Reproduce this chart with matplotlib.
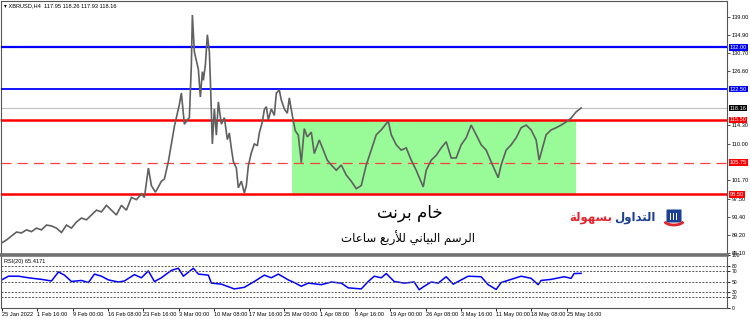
import matplotlib
matplotlib.use("Agg")
import matplotlib.pyplot as plt
from matplotlib.transforms import blended_transform_factory
from matplotlib.patches import Rectangle, FancyBboxPatch, Arc

# bar number (H4) -> price
price_bar = [0, 5, 10, 15, 20, 25, 30, 35, 40, 45, 50, 55, 60, 65, 70, 75, 80, 85, 90, 95,
             100, 105, 110, 115, 120, 125, 130, 135, 140, 143, 147, 150, 154, 157, 160, 163,
             167, 170, 173, 176, 178, 180, 183, 186, 188, 190, 191, 193, 195, 197, 199, 201,
             202, 204, 206, 208, 209, 211, 213, 215, 217, 220, 223, 226, 228, 230, 232, 235,
             237, 240, 243, 245, 247, 250, 253, 256, 258, 261, 263, 265, 267, 270, 273, 275,
             278, 280, 283, 286, 288, 291, 294, 297, 300, 303, 306, 310, 313, 318, 322, 326,
             330, 335, 340, 345, 350, 355, 360, 365, 370, 375, 380, 387, 390, 395, 400, 405,
             410, 415, 422, 425, 430, 435, 440, 445, 450, 455, 460, 465, 470, 475, 480, 485,
             490, 497, 500, 505, 510, 515, 520, 525, 530, 535, 538, 545, 550, 555, 560, 565,
             570, 575, 580]
price = [87.4, 88.1, 89.0, 89.9, 89.7, 90.4, 90.0, 90.8, 90.4, 91.5, 91.3, 90.8, 89.8, 91.5,
         90.8, 92.2, 93.1, 92.7, 93.8, 94.9, 94.5, 96.0, 94.9, 93.8, 96.0, 94.9, 97.8, 97.3,
         98.6, 97.8, 104.5, 100.5, 99.0, 100.2, 101.5, 102.0, 106.0, 110.0, 114.0, 117.0,
         119.0, 121.6, 114.5, 115.5, 116.0, 128.0, 139.4, 131.0, 129.0, 127.0, 120.7, 126.5,
         124.5, 128.0, 134.9, 131.0, 124.6, 110.0, 118.0, 112.0, 119.6, 114.5, 116.0, 111.0,
         112.5, 109.0, 106.0, 104.5, 100.0, 101.5, 98.8, 100.5, 105.0, 108.0, 110.0, 109.6,
         112.5, 115.0, 117.8, 118.5, 115.5, 118.0, 116.5, 121.6, 122.3, 120.0, 118.0, 117.0,
         120.5, 116.5, 113.0, 112.0, 105.7, 113.5, 111.6, 112.7, 107.8, 110.9, 108.6, 106.3,
         105.2, 104.0, 105.2, 102.9, 101.5, 99.8, 100.5, 105.2, 108.6, 112.1, 113.2, 115.2,
         112.1, 109.8, 108.6, 109.1, 106.3, 104.0, 100.2, 104.0, 106.3, 107.4, 109.1, 110.5,
         106.8, 106.8, 109.8, 111.4, 114.3, 112.1, 109.8, 108.6, 105.9, 102.3, 105.2, 108.6,
         109.8, 111.4, 113.7, 114.3, 113.2, 110.9, 106.3, 112.1, 113.2, 113.7, 114.3, 115.0,
         115.9, 117.3, 118.2]

rsi_bar = [0, 7, 17, 27, 40, 50, 57, 63, 70, 80, 87, 93, 100, 107, 117, 123, 133, 140, 147,
           153, 160, 170, 177, 182, 192, 197, 207, 210, 220, 233, 243, 253, 263, 270, 277,
           287, 293, 300, 307, 320, 330, 340, 347, 360, 367, 373, 380, 385, 393, 403, 413,
           418, 423, 430, 437, 445, 452, 457, 467, 480, 487, 495, 500, 510, 520, 530, 537,
           540, 550, 563, 570, 573, 580]
rsi = [52.8, 60, 60, 57, 54, 51, 68, 62, 50, 52, 48, 64, 60, 53, 49, 51, 63, 57, 70, 50,
       57, 71, 75, 60, 75, 64, 62, 47, 45, 36, 39, 50, 62, 57, 64, 53, 48, 41, 47, 44, 49,
       47, 38, 36, 50, 60, 57, 65, 50, 47, 49, 34.5, 41, 49, 47, 59, 45, 50, 60, 59, 44, 35,
       48, 54, 60, 56, 44, 52, 54, 59, 56, 65, 65.4]

# horizontal levels and their tags
level_values = [132.00, 122.50, 115.50, 105.75, 98.50]
level_labels = ["132.00", "122.50", "115.50", "105.75", "98.50"]
last_price = 118.16

zone_start, zone_end = 291, 575
zone_low, zone_high = 98.50, 115.50

price_ticks = [139.00, 134.90, 130.70, 126.60, 114.30, 110.00, 101.70, 97.50, 93.40, 89.20, 85.10]
rsi_ticks = [100, 80, 70, 50, 30, 20, 0]
rsi_levels = [80, 70, 50, 30, 20]

time_labels = ["25 Jan 2022", "1 Feb 16:00", "9 Feb 00:00", "16 Feb 08:00", "23 Feb 16:00",
               "3 Mar 00:00", "10 Mar 08:00", "17 Mar 16:00", "25 Mar 00:00", "1 Apr 08:00",
               "8 Apr 16:00", "19 Apr 00:00", "26 Apr 08:00", "3 May 16:00", "11 May 00:00",
               "18 May 08:00", "25 May 16:00"]

title_text = "XBRUSD,H4  117.95 118.26 117.93 118.16"
rsi_text = "RSI(20) 65.4171"

# Arabic text written with presentation forms in visual order
big_title = "\ufe96\ufee7\ufeae\ufe91 \ufee1\ufe8e\ufea7"
sub_title = ("\ufe95\ufe8e\ufecb\ufe8e\ufeb3 \ufeca\ufe91\ufead\ufef8\ufedf "
             "\ufef2\ufee7\ufe8e\ufef4\ufe92\ufedf\ufe8d \ufee2\ufeb3\ufeae\ufedf\ufe8d")
logo_red = "\ufe94\ufedf\ufeee\ufeec\ufeb4\ufe91"
logo_blue = "\ufedd\ufeed\ufe8d\ufeaa\ufe98\ufedf\ufe8d"

small = ['Liberation Sans', 'DejaVu Sans']
fs = 4.1

W, H = 750, 319
fig = plt.figure(figsize=(7.5, 3.19), dpi=100)
plt.rcParams['font.family'] = ['DejaVu Sans']

x0, x1 = 1, 727
ax = fig.add_axes([x0 / W, 1 - 254 / H, (x1 - x0) / W, 253 / H])
ax2 = fig.add_axes([x0 / W, 1 - 308 / H, (x1 - x0) / W, 53 / H])

xlim = (-0.5, 726)
ax.set_xlim(*xlim)
ax.set_ylim(84.9, 142.6)

ax.add_patch(Rectangle((zone_start, zone_low), zone_end - zone_start, zone_high - zone_low,
                       facecolor="#98fb98", edgecolor="none", zorder=1))

level_colors = ["#0000ff", "#0000ff", "#ff0000", "#ff4040", "#ff0000"]
level_styles = ["-", "-", "-", (0, (8, 5)), "-"]
level_widths = [1.6, 1.3, 1.8, 0.9, 1.8]
for v, c, ls, lw in zip(level_values, level_colors, level_styles, level_widths):
    ax.axhline(v, color=c, ls=ls, lw=lw, zorder=3)
ax.axhline(last_price, color="#c0c0c0", lw=0.8, zorder=2)

ax.plot(price_bar, price, color="#606060", lw=1.2, zorder=4, solid_joinstyle="miter")

ax.yaxis.tick_right()
ax.set_yticks(price_ticks)
ax.set_yticklabels(["%.2f" % t for t in price_ticks], family=small)
ax.tick_params(axis="y", labelsize=fs, length=2, width=0.6, pad=1.2, colors="#333333",
               labelcolor="#000000")
ax.set_xticks([])
for s in ax.spines.values():
    s.set_color("#555555")
    s.set_linewidth(0.8)

tr = blended_transform_factory(ax.transAxes, ax.transData)
tag_colors = ["#0000ff", "#0000ff", "#ff0000", "#ff0000", "#ff0000"]
for v, lab, c in zip(level_values, level_labels, tag_colors):
    ax.text(1.004, v, lab, transform=tr, fontsize=fs, color="white", va="center", ha="left",
            family=small, bbox=dict(boxstyle="square,pad=0.12", fc=c, ec="none"),
            clip_on=False, zorder=10)
ax.text(1.004, last_price, "%.2f" % last_price, transform=tr, fontsize=fs, color="white",
        va="center", ha="left", family=small,
        bbox=dict(boxstyle="square,pad=0.12", fc="#000000", ec="none"), clip_on=False, zorder=10)

ax.text(0.004, 0.99, "\u25be " + title_text, transform=ax.transAxes, fontsize=fs,
        va="top", ha="left", color="#000000", family=small)

# RSI panel
ax2.set_xlim(*xlim)
ax2.set_ylim(0, 100)
ax2.plot(rsi_bar, rsi, color="#0000ff", lw=1.1)
for lv in rsi_levels:
    ax2.axhline(lv, color="#555555", lw=0.7, ls=(0, (2, 1.5)))
ax2.yaxis.tick_right()
ax2.set_yticks(rsi_ticks)
ax2.set_yticklabels([str(t) for t in rsi_ticks], family=small)
ax2.tick_params(axis="y", labelsize=3.6, length=2, width=0.6, pad=1.2)
ax2.set_xticks([35.3 * i + 0.7 for i in range(len(time_labels))])
ax2.set_xticklabels(time_labels, family=small)
ax2.tick_params(axis="x", labelsize=fs, length=2, width=0.6, pad=1.2)
for lab in ax2.get_xticklabels():
    lab.set_ha("left")
for s in ax2.spines.values():
    s.set_color("#555555")
    s.set_linewidth(0.8)
ax2.spines["top"].set_linewidth(2.6)
ax2.spines["top"].set_color("#707070")
ax2.text(0.004, 0.93, rsi_text, transform=ax2.transAxes, fontsize=fs, va="top", ha="left",
         family=small)

# captions
fig.text(410 / W, 1 - 213 / H, big_title, fontsize=12, ha="center", va="center", color="black")
fig.text(408 / W, 1 - 238 / H, sub_title, fontsize=8.5, ha="center", va="center", color="black")

# logo
fig.text(612 / W, 1 - 217 / H, logo_red, fontsize=8.5, fontweight="bold", color="#e3262c",
         ha="right", va="center")
fig.text(614 / W, 1 - 217 / H, logo_blue, fontsize=8.5, fontweight="bold", color="#1b3f94",
         ha="left", va="center")
lax = fig.add_axes([664 / W, 1 - 228 / H, 20 / W, 20 / H])
lax.set_xlim(0, 20)
lax.set_ylim(0, 20)
lax.axis("off")
lax.add_patch(FancyBboxPatch((3, 6), 14, 12, boxstyle="round,pad=0.5", fc="#1b3f94", ec="none"))
for bx in [6, 9, 12]:
    lax.add_patch(Rectangle((bx, 8), 1.4, 7, fc="white", ec="none"))
lax.add_patch(Arc((10, 8), 20, 10, theta1=190, theta2=350, color="#e3262c", lw=2))

fig.savefig("out.png", dpi=100)
